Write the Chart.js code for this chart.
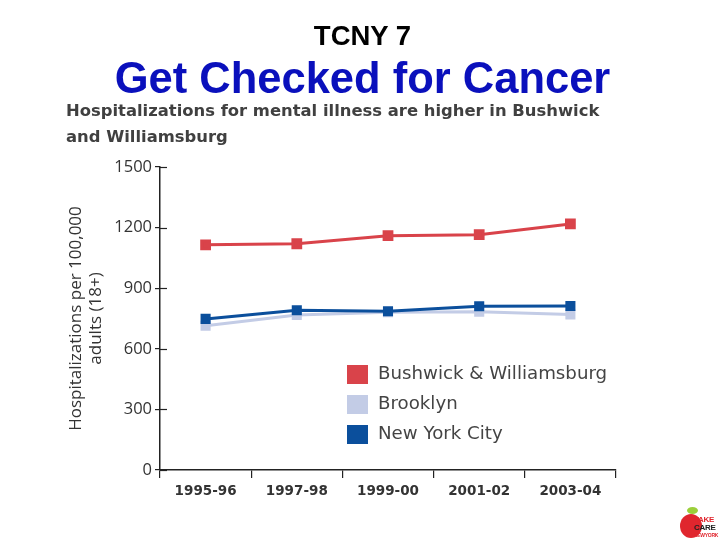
<!DOCTYPE html>
<html>
<head>
<meta charset="utf-8">
<script src="https://cdn.jsdelivr.net/npm/chart.js@4"></script>
<style>
  body { margin: 0; background: #fff; }
  #page { position: relative; width: 720px; height: 540px; overflow: hidden; }
  #chartBox { position: absolute; left: 0; top: 0; width: 720px; height: 540px; }
  .t1 { position: absolute; left: 0; width: 725px; top: 20px; text-align: center;
        font: bold 27.5px "Liberation Sans", Arial, sans-serif; color: #000; }
  .t2 { position: absolute; left: 0; width: 725px; top: 54px; text-align: center;
        font: bold 43.5px "Liberation Sans", Arial, sans-serif; color: #0a10bc; }
  .sub { position: absolute; left: 66px; top: 98px; width: 600px;
         font: bold 16.4px "DejaVu Sans", Verdana, sans-serif; color: #404040; line-height: 26px; }
  .logo { position: absolute; left: 678px; top: 505px; width: 42px; height: 35px; }
  .apple { position: absolute; left: 2px; top: 9px; width: 22px; height: 24px; border-radius: 50%; background: #e0262e; }
  .leaf { position: absolute; left: 9px; top: 2px; width: 11px; height: 7px; border-radius: 50%; background: #9bcf3a; }
  .logo span { position: absolute; left: 16px; font: bold 8px "Liberation Sans", Arial, sans-serif; color: #e0262e; letter-spacing: -0.3px; }
</style>
</head>
<body>
<div id="page">
  <div id="chartBox"><canvas id="chart"></canvas></div>
  <div class="t1">TCNY 7</div>
  <div class="t2">Get Checked for Cancer</div>
  <div class="sub">Hospitalizations for mental illness are higher in Bushwick<br>and Williamsburg</div>
  <div class="logo">
    <div class="leaf"></div><div class="apple"></div>
    <span style="top:10px">TAKE</span><span style="top:18px;color:#222">CARE</span><span style="top:27px;font-size:5px">NEWYORK</span>
  </div>
</div>
<script>
"use strict";

const years = ["1995-96", "1997-98", "1999-00", "2001-02", "2003-04"];
const bushwick = [1115, 1120, 1160, 1165, 1218];
const brooklyn = [714, 767, 781, 783, 770];
const nyc = [748, 791, 786, 811, 812];
const yTicks = [0, 300, 600, 900, 1200, 1500];

const red = "#d9434a";
const light = "#c3cce6";
const dark = "#0b4f9c";

// legend drawn inside the plot, lower right
const insideLegend = {
    id: "insideLegend",
    afterDraw(chart){
        const ctx = chart.ctx;
        ctx.save();
        ctx.font = "18.2px 'DejaVu Sans', Verdana, sans-serif";
        ctx.textBaseline = "middle";
        chart.data.datasets.forEach(function(ds, i){
            let y = 365 + i * 30;
            ctx.fillStyle = ds.borderColor;
            ctx.fillRect(347, y, 21, 19);
            ctx.fillStyle = "#444";
            ctx.fillText(ds.label, 378, y + 9);
        });
        ctx.restore();
    }
};

// y ticks cross the axis line
const innerTicks = {
    id: "innerTicks",
    afterDraw(chart){
        const ctx = chart.ctx;
        const ys = chart.scales.y;
        ctx.save();
        ctx.strokeStyle = "#222";
        ctx.lineWidth = 1.2;
        yTicks.forEach(function(v){
            let py = Math.round(ys.getPixelForValue(v)) + 0.5;
            ctx.beginPath();
            ctx.moveTo(ys.right, py);
            ctx.lineTo(ys.right + 7, py);
            ctx.stroke();
        });
        ctx.restore();
    }
};

new Chart(document.getElementById("chart"), {
    type: "line",
    data: {
        labels: years,
        datasets: [
            {
                label: "Bushwick & Williamsburg",
                data: bushwick,
                borderColor: red,
                backgroundColor: red,
                borderWidth: 3,
                pointStyle: "rect",
                pointRadius: 5.5,
                order: 0
            },
            {
                label: "Brooklyn",
                data: brooklyn,
                borderColor: light,
                backgroundColor: light,
                borderWidth: 3,
                pointStyle: "rect",
                pointRadius: 5,
                order: 2
            },
            {
                label: "New York City",
                data: nyc,
                borderColor: dark,
                backgroundColor: dark,
                borderWidth: 3,
                pointStyle: "rect",
                pointRadius: 5,
                order: 1
            }
        ]
    },
    options: {
        responsive: true,
        maintainAspectRatio: false,
        animation: false,
        layout: { padding: { left: 66, top: 167, right: 104, bottom: 0 } },
        plugins: {
            legend: { display: false },
            tooltip: { enabled: false }
        },
        scales: {
            x: {
                offset: true,
                grid: { offset: true, drawOnChartArea: false, tickLength: 8, color: "#222", lineWidth: 1.2 },
                border: { display: true, color: "#222", width: 1.5 },
                ticks: {
                    padding: 5,
                    color: "#333",
                    font: { family: "'DejaVu Sans', Verdana, sans-serif", size: 13.5, weight: "bold" }
                },
                afterFit(s){ s.height = 70; }
            },
            y: {
                min: 0,
                max: 1500,
                afterBuildTicks(s){ s.ticks = yTicks.map(v => ({ value: v })); },
                grid: { drawOnChartArea: false, tickLength: 5, color: "#222", lineWidth: 1.2 },
                border: { display: true, color: "#222", width: 1.5 },
                ticks: {
                    padding: 3,
                    color: "#333",
                    font: { family: "'Open Sans', 'Noto Sans', sans-serif", size: 16.5 },
                    callback: v => String(v)
                },
                title: {
                    display: true,
                    text: ["Hospitalizations per 100,000", "adults (18+)"],
                    color: "#333",
                    font: { family: "'Open Sans', 'Noto Sans', sans-serif", size: 17 },
                    padding: { top: 0, bottom: 4 }
                },
                afterFit(s){ s.width = 94; }
            }
        }
    },
    plugins: [insideLegend, innerTicks]
});
</script>
</body>
</html>
